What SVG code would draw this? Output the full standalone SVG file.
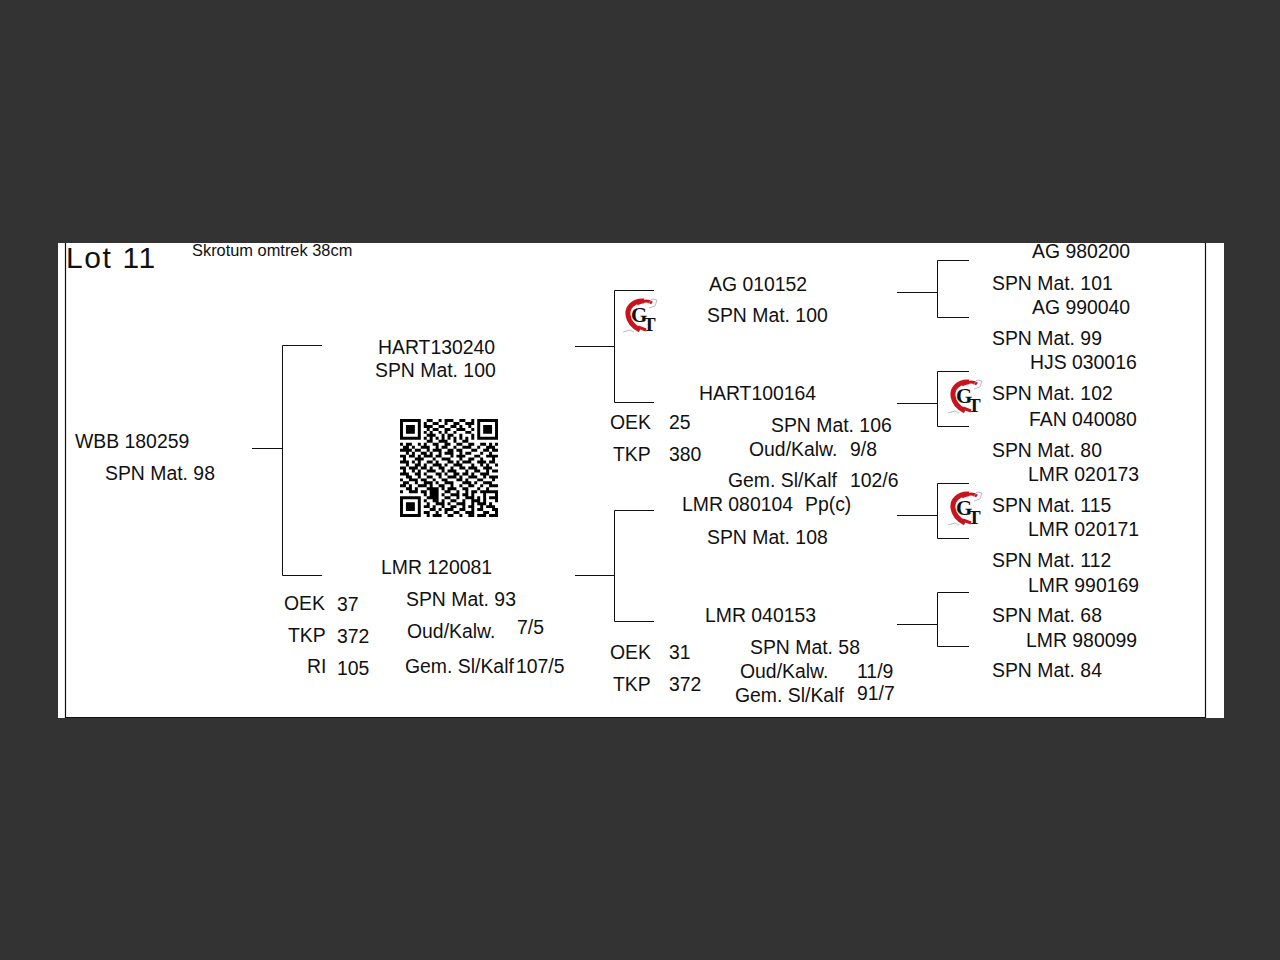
<svg xmlns="http://www.w3.org/2000/svg" width="1280" height="960" viewBox="0 0 1280 960">
<style>
text{font-family:"Liberation Sans",Arial,sans-serif;font-size:19.4px;fill:#111}
.c{fill:none;stroke:#111;stroke-width:1}
.lt{font-family:"Liberation Serif",serif;font-weight:bold;fill:#111}
</style>
<defs>
<g id="logo">
<rect x="-1" y="-1" width="38" height="38" fill="#fff"/>
<path d="M22 4C11 3 5 11 6 18C7 26 12 30 18 33" fill="none" stroke="#c8141e" stroke-width="5"/>
<path d="M15 7C20 4 26 3 30 6" fill="none" stroke="#c8141e" stroke-width="3"/>
<path d="M16 30L24 33" fill="none" stroke="#c8141e" stroke-width="3"/>
<path d="M26 7L30 2L35 3L33 9L27 11M1 35L8 33L12 35" fill="none" stroke="#aab" stroke-width="0.8"/>
<text class="lt" x="9" y="25" style="font-family:'Liberation Serif',serif;font-size:21px;font-weight:bold">G</text>
<text class="lt" x="21" y="34" style="font-family:'Liberation Serif',serif;font-size:19px;font-weight:bold">T</text>
</g>
</defs>
<rect width="1280" height="960" fill="#333"/>
<rect x="58" y="243" width="1166" height="475" fill="#fff"/>
<path d="M65.5 243V717.5H1206M1205.5 243V717.5" fill="none" stroke="#111" stroke-width="1.2"/>
<g id="connectors">
<path class="c" d="M252 448.500H282.500M322 345.500H282.500V575.500H322"/>
<path class="c" d="M575 346.500H614.500M654 290.500H614.500V402.500H654"/>
<path class="c" d="M575 575.500H614.500M654 510.500H614.500V621.500H654"/>
<path class="c" d="M897 292.500H937.500M969 260.500H937.500V317.500H969"/>
<path class="c" d="M897 403.500H937.500M969 371.500H937.500V426.500H969"/>
<path class="c" d="M897 515.500H937.500M969 483.500H937.500V538.500H969"/>
<path class="c" d="M897 624.500H937.500M969 592.500H937.500V646.500H969"/>
</g>
<g id="header">
<text x="66" y="268" style="font-size:30px;letter-spacing:1.6px">Lot 11</text>
<text x="192" y="256" style="font-size:16.400px">Skrotum omtrek 38cm</text>
</g>
<g id="root">
<text x="75" y="448">WBB 180259</text>
<text x="105" y="480">SPN Mat. 98</text>
</g>
<g id="sire">
<text x="378" y="354">HART130240</text>
<text x="375" y="377">SPN Mat. 100</text>
</g>
<g id="qr"><rect x="397" y="416" width="104" height="104" fill="#fff"/>
<path transform="translate(400,419) scale(2.97)" fill="none" stroke="#000" stroke-width="1" d="
M0 .5h7M9 .5h2M13 .5h1M15 .5h3M20 .5h2M24 .5h1M26 .5h7
M0 1.500h1M6 1.500h1M8 1.500h1M11 1.500h2M15 1.500h1M18 1.500h2M22 1.500h3M26 1.500h1M32 1.500h1
M0 2.500h1M2 2.500h3M6 2.500h1M8 2.500h3M13 2.500h2M17 2.500h2M20 2.500h1M23 2.500h1M26 2.500h1M28 2.500h3M32 2.500h1
M0 3.500h1M2 3.500h3M6 3.500h1M9 3.500h1M11 3.500h2M15 3.500h2M19 3.500h3M24 3.500h1M26 3.500h1M28 3.500h3M32 3.500h1
M0 4.500h1M2 4.500h3M6 4.500h1M8 4.500h1M10 4.500h1M13 4.500h1M15 4.500h1M18 4.500h1M22 4.500h2M26 4.500h1M28 4.500h3M32 4.500h1
M0 5.500h1M6 5.500h1M9 5.500h3M14 5.500h1M16 5.500h2M20 5.500h1M24 5.500h1M26 5.500h1M32 5.500h1
M0 6.500h7M8 6.500h1M10 6.500h1M12 6.500h1M14 6.500h1M16 6.500h1M18 6.500h1M20 6.500h1M22 6.500h1M24 6.500h1M26 6.500h7
M9 7.500h2M13 7.500h3M18 7.500h1M21 7.500h2
M0 8.500h1M2 8.500h2M6 8.500h1M8 8.500h1M11 8.500h2M15 8.500h2M19 8.500h2M23 8.500h2M27 8.500h2M30 8.500h1M32 8.500h1
M1 9.500h2M4 9.500h1M7 9.500h3M12 9.500h1M14 9.500h2M18 9.500h1M21 9.500h3M26 9.500h1M29 9.500h3
M0 10.500h4M5 10.500h2M9 10.500h1M11 10.500h3M16 10.500h2M19 10.500h2M24 10.500h2M28 10.500h2M31 10.500h2
M2 11.500h1M4 11.500h1M7 11.500h2M10 11.500h1M13 11.500h1M15 11.500h3M20 11.500h1M22 11.500h2M27 11.500h1M30 11.500h1
M0 12.500h2M3 12.500h2M6 12.500h1M8 12.500h3M12 12.500h2M17 12.500h1M19 12.500h3M25 12.500h2M29 12.500h4
M1 13.500h1M5 13.500h3M11 13.500h1M14 13.500h3M20 13.500h1M23 13.500h2M27 13.500h1M31 13.500h1
M0 14.500h3M4 14.500h1M6 14.500h1M9 14.500h2M12 14.500h1M16 14.500h2M19 14.500h1M21 14.500h3M26 14.500h3M30 14.500h2
M2 15.500h1M5 15.500h2M8 15.500h1M11 15.500h3M15 15.500h1M18 15.500h3M24 15.500h1M27 15.500h1M29 15.500h1M32 15.500h1
M0 16.500h2M3 16.500h3M7 16.500h2M10 16.500h1M13 16.500h2M17 16.500h1M20 16.500h2M23 16.500h3M28 16.500h3
M1 17.500h1M4 17.500h1M6 17.500h1M9 17.500h3M14 17.500h1M16 17.500h3M22 17.500h1M25 17.500h2M29 17.500h1M31 17.500h2
M0 18.500h3M5 18.500h2M8 18.500h1M12 18.500h2M15 18.500h1M18 18.500h2M21 18.500h2M24 18.500h1M27 18.500h3
M2 19.500h2M6 19.500h1M9 19.500h2M13 19.500h1M16 19.500h3M20 19.500h1M23 19.500h3M28 19.500h1M30 19.500h3
M0 20.500h1M3 20.500h3M7 20.500h2M11 20.500h1M14 20.500h2M19 20.500h2M22 20.500h1M26 20.500h2M31 20.500h1
M1 21.500h2M5 21.500h1M8 21.500h3M12 21.500h1M15 21.500h3M21 21.500h3M25 21.500h1M28 21.500h3
M0 22.500h2M3 22.500h1M6 22.500h3M10 22.500h1M13 22.500h2M17 22.500h1M20 22.500h1M23 22.500h2M27 22.500h1M30 22.500h3
M2 23.500h2M5 23.500h1M9 23.500h4M14 23.500h1M16 23.500h3M21 23.500h2M26 23.500h1M29 23.500h1
M0 24.500h1M3 24.500h3M7 24.500h2M10 24.500h3M15 24.500h2M19 24.500h1M22 24.500h1M24 24.500h2M27 24.500h6
M8 25.500h1M10 25.500h3M14 25.500h1M17 25.500h3M21 25.500h2M24 25.500h1M28 25.500h1M32 25.500h1
M0 26.500h7M9 26.500h4M15 26.500h2M19 26.500h1M22 26.500h3M26 26.500h1M28 26.500h1M30 26.500h3
M0 27.500h1M6 27.500h1M8 27.500h1M11 27.500h2M14 27.500h1M17 27.500h2M21 27.500h1M24 27.500h3M28 27.500h1M32 27.500h1
M0 28.500h1M2 28.500h3M6 28.500h1M9 28.500h1M12 28.500h3M16 28.500h1M19 28.500h3M24 28.500h1M26 28.500h3M30 28.500h1
M0 29.500h1M2 29.500h3M6 29.500h1M8 29.500h2M11 29.500h1M14 29.500h1M17 29.500h2M21 29.500h1M23 29.500h2M27 29.500h1M29 29.500h3
M0 30.500h1M2 30.500h3M6 30.500h1M10 30.500h2M13 30.500h1M15 30.500h3M20 30.500h2M24 30.500h1M26 30.500h2M31 30.500h2
M0 31.500h1M6 31.500h1M8 31.500h2M12 31.500h1M15 31.500h1M18 31.500h2M22 31.500h3M28 31.500h2M32 31.500h1
M0 32.500h7M9 32.500h1M11 32.500h3M16 32.500h2M20 32.500h1M23 32.500h2M26 32.500h3M30 32.500h3"/>
</g>
<g id="dam">
<text x="381" y="574">LMR 120081</text>
<text x="406" y="606">SPN Mat. 93</text>
<text x="407" y="638">Oud/Kalw.</text>
<text x="517" y="634">7/5</text>
<text x="405" y="673">Gem. Sl/Kalf</text>
<text x="516" y="673">107/5</text>
<text x="284" y="610">OEK</text><text x="337" y="611">37</text>
<text x="288" y="642">TKP</text><text x="337" y="643">372</text>
<text x="307" y="673">RI</text><text x="337" y="675">105</text>
</g>
<g id="ss">
<text x="709" y="291">AG  010152</text>
<text x="707" y="322">SPN Mat. 100</text>
</g>
<g id="sd">
<text x="699" y="400">HART100164</text>
<text x="771" y="432">SPN Mat. 106</text>
<text x="749" y="456">Oud/Kalw.</text><text x="850" y="456">9/8</text>
<text x="728" y="487">Gem. Sl/Kalf</text><text x="850" y="487">102/6</text>
<text x="610" y="429">OEK</text><text x="669" y="429">25</text>
<text x="613" y="461">TKP</text><text x="669" y="461">380</text>
</g>
<g id="ds">
<text x="682" y="511">LMR 080104</text><text x="805" y="511">Pp(c)</text>
<text x="707" y="544">SPN Mat. 108</text>
</g>
<g id="dd">
<text x="705" y="622">LMR 040153</text>
<text x="750" y="654">SPN Mat. 58</text>
<text x="740" y="678">Oud/Kalw.</text><text x="857" y="678">11/9</text>
<text x="735" y="702">Gem. Sl/Kalf</text><text x="857" y="700">91/7</text>
<text x="610" y="659">OEK</text><text x="669" y="659">31</text>
<text x="613" y="691">TKP</text><text x="669" y="691">372</text>
</g>
<g id="gen3">
<text x="1032" y="258">AG  980200</text><text x="992" y="290">SPN Mat. 101</text>
<text x="1032" y="314">AG  990040</text><text x="992" y="345">SPN Mat. 99</text>
<text x="1030" y="369">HJS 030016</text><text x="992" y="400">SPN Mat. 102</text>
<text x="1029" y="426">FAN 040080</text><text x="992" y="457">SPN Mat. 80</text>
<text x="1028" y="481">LMR 020173</text><text x="992" y="512">SPN Mat. 115</text>
<text x="1028" y="536">LMR 020171</text><text x="992" y="567">SPN Mat. 112</text>
<text x="1028" y="592">LMR 990169</text><text x="992" y="622">SPN Mat. 68</text>
<text x="1026" y="647">LMR 980099</text><text x="992" y="677">SPN Mat. 84</text>
</g>
<g id="logos">
<use href="#logo" x="622" y="297"/>
<use href="#logo" x="947" y="378"/>
<use href="#logo" x="947" y="490"/>
</g>
</svg>
